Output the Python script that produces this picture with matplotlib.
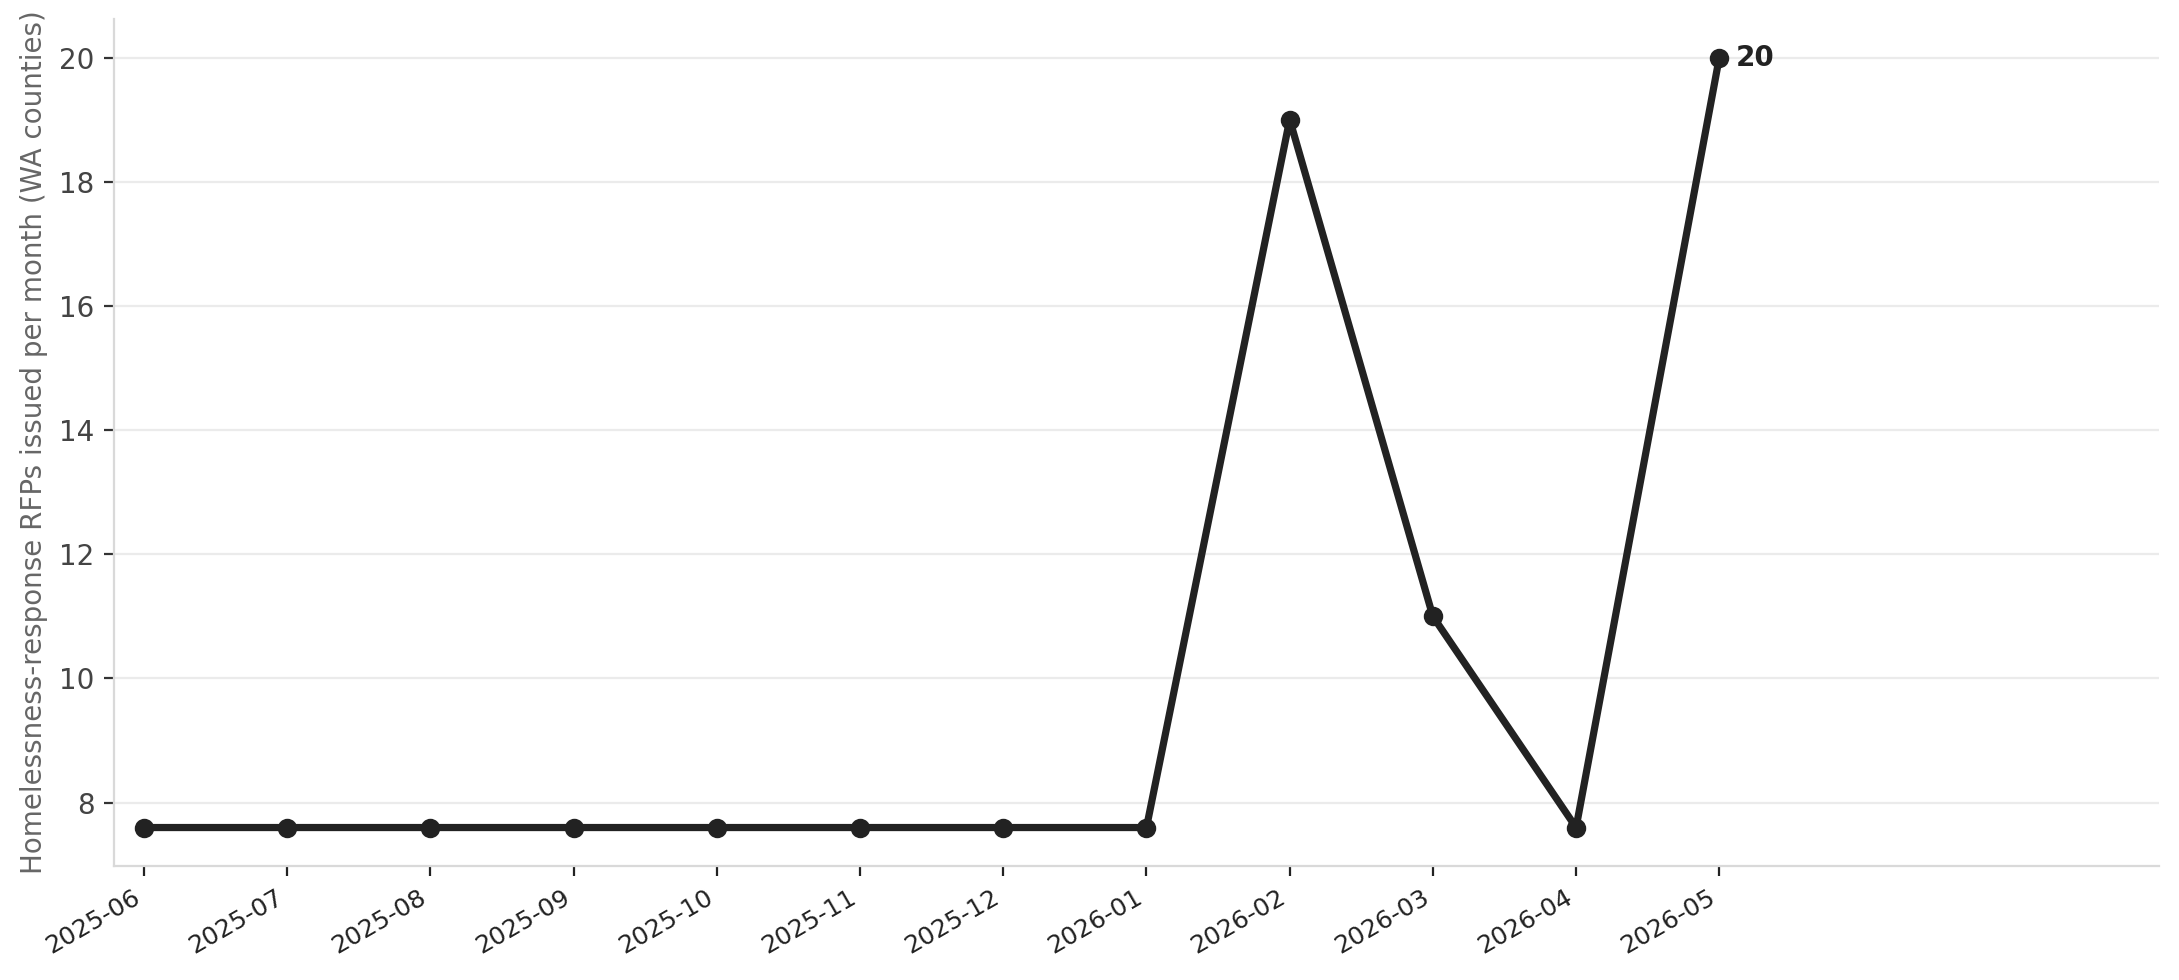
import matplotlib.pyplot as plt
import numpy as np

# monthly counts of homelessness-response RFPs
months = ["2025-06", "2025-07", "2025-08", "2025-09", "2025-10", "2025-11",
          "2025-12", "2026-01", "2026-02", "2026-03", "2026-04", "2026-05"]
rfp_counts = [7.6, 7.6, 7.6, 7.6, 7.6, 7.6, 7.6, 7.6, 19, 11, 7.6, 20]

line_color = "#222222"

fig = plt.figure(figsize=(10.895, 4.9), dpi=200)
ax = fig.add_axes([0.0523, 0.1163, 0.9385, 0.8643])

x = np.arange(len(months))
ax.plot(x, rfp_counts, color=line_color, linewidth=2.6, marker="o", markersize=6)

# label the latest value
ax.annotate(f"{rfp_counts[-1]:g}", xy=(x[-1], rfp_counts[-1]), xytext=(6, 0),
            textcoords="offset points", ha="left", va="center",
            fontsize=10, fontweight="bold", color=line_color)

ax.set_xlim(-0.21, 14.07)
ax.set_xticks(x)
ax.set_xticklabels(months, rotation=30, ha="right", fontsize=9, color="#222222")
ax.set_yticks([8, 10, 12, 14, 16, 18, 20])
ax.tick_params(axis="y", labelsize=10, labelcolor="#444444", color="#333333", length=3.5)
ax.tick_params(axis="x", color="#222222", length=3.5)

ax.set_ylabel("Homelessness-response RFPs issued per month (WA counties)",
              fontsize=10, color="#666666")

ax.grid(axis="y", color="#ebebeb", linewidth=0.8)
ax.set_axisbelow(True)
for side in ["top", "right"]:
    ax.spines[side].set_visible(False)
for side in ["left", "bottom"]:
    ax.spines[side].set_color("#d9d9d9")
    ax.spines[side].set_linewidth(0.8)

fig.savefig("out.png", dpi=200)
